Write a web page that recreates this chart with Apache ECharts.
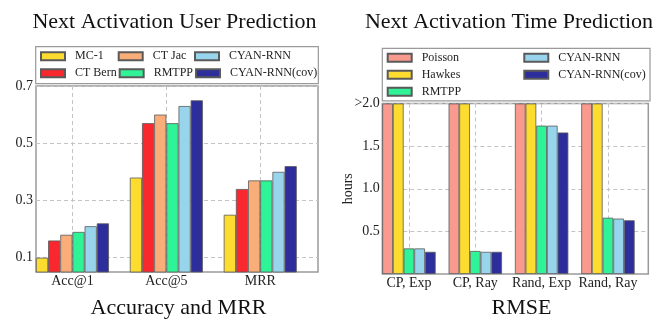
<!DOCTYPE html>
<html>
<head>
<meta charset="utf-8">
<script src="https://cdn.jsdelivr.net/npm/echarts@6/dist/echarts.min.js"></script>
<style>html,body{margin:0;padding:0;background:#fff;}#c{width:669px;height:334px;}</style>
</head>
<body>
<div id="c"></div>
<script>
// ---- data: left chart (Next Activation User Prediction) ----
const userCategories = ['Acc@1', 'Acc@5', 'MRR'];
const mc1        = [0.10, 0.38, 0.25];
const ctBern     = [0.16, 0.57, 0.34];
const ctJac      = [0.18, 0.60, 0.37];
const rmtppUser  = [0.19, 0.57, 0.37];
const cyanUser   = [0.21, 0.63, 0.40];
const cyanCovUser= [0.22, 0.65, 0.42];
const userTicks  = [0.1, 0.3, 0.5, 0.7];

// ---- data: right chart (Next Activation Time Prediction, RMSE hours; Poisson/Hawkes capped at 2.0) ----
const timeCategories = ['CP, Exp', 'CP, Ray', 'Rand, Exp', 'Rand, Ray'];
const poisson    = [2.0, 2.0, 2.0, 2.0];
const hawkes     = [2.0, 2.0, 2.0, 2.0];
const rmtppTime  = [0.30, 0.27, 1.74, 0.66];
const cyanTime   = [0.30, 0.26, 1.74, 0.65];
const cyanCovTime= [0.26, 0.26, 1.66, 0.63];
const timeTicks  = [0.5, 1.0, 1.5, 2.0];

// ---- styles ----
const FONT = 'Liberation Serif';
const colors = {
  'MC-1': '#FCDC2E', 'CT Bern': '#F8282E', 'CT Jac': '#F9AE7A', 'RMTPP': '#30F296',
  'CYAN-RNN': '#98D4EC', 'CYAN-RNN(cov)': '#2D2E9C', 'Poisson': '#F99A8E', 'Hawkes': '#FCDC2E'
};
const frameColor = '#9a9a9a';
const gridLine = { show: true, lineStyle: { color: '#c4c4c4', type: [4, 3], width: 1 } };

function bar(name, data, xi, yi, w) {
  return {
    type: 'bar', name: name, data: data, xAxisIndex: xi, yAxisIndex: yi,
    barWidth: w, barGap: '0%', clip: true,
    itemStyle: { color: colors[name], borderColor: '#5a5a5a', borderWidth: 0.8 },
    emphasis: { disabled: true }
  };
}
function legItem(name, w) {
  return { name: name, textStyle: { width: w } };
}
const legendText = { fontFamily: FONT, fontSize: 12, color: '#222', lineHeight: 15, padding: [0, 0, 0, 5], overflow: 'none' };

const chart = echarts.init(document.getElementById('c'), null, { renderer: 'canvas' });
chart.setOption({
  animation: false,
  title: [
    { text: 'Next Activation User Prediction', left: 174.5, top: 22, textAlign: 'center', textVerticalAlign: 'middle', padding: 0,
      textStyle: { fontFamily: FONT, fontSize: 22, fontWeight: 'normal', color: '#111' } },
    { text: 'Next Activation Time Prediction', left: 509, top: 22, textAlign: 'center', textVerticalAlign: 'middle', padding: 0,
      textStyle: { fontFamily: FONT, fontSize: 22, fontWeight: 'normal', color: '#111' } },
    { text: 'Accuracy and MRR', left: 178.5, top: 308, textAlign: 'center', textVerticalAlign: 'middle', padding: 0,
      textStyle: { fontFamily: FONT, fontSize: 22, fontWeight: 'normal', color: '#111' } },
    { text: 'RMSE', left: 521.5, top: 308, textAlign: 'center', textVerticalAlign: 'middle', padding: 0,
      textStyle: { fontFamily: FONT, fontSize: 22, fontWeight: 'normal', color: '#111' } }
  ],
  legend: [
    {
      left: 35.7, top: 46.7, width: 280, orient: 'horizontal', itemGap: 2,
      itemWidth: 24, itemHeight: 8, icon: 'rect', selectedMode: false,
      padding: [2, 1, 3, 4.3], borderColor: frameColor, borderWidth: 1.2, borderRadius: 0,
      textStyle: legendText,
      data: [legItem('MC-1', 40.7), legItem('CT Jac', 39.3), legItem('CYAN-RNN', 87),
             legItem('CT Bern', 40.7), legItem('RMTPP', 39.3), legItem('CYAN-RNN(cov)', 87)]
    },
    {
      left: 382.3, top: 48.3, width: 300, orient: 'horizontal', itemGap: 2,
      itemWidth: 24, itemHeight: 8, icon: 'rect', selectedMode: false,
      padding: [2, 4.4, 1.5, 4.4], borderColor: frameColor, borderWidth: 1.2, borderRadius: 0,
      textStyle: legendText,
      data: [legItem('Poisson', 99.6), legItem('CYAN-RNN', 87),
             legItem('Hawkes', 99.6), legItem('CYAN-RNN(cov)', 87),
             legItem('RMTPP', 99.6)]
    }
  ],
  grid: [
    { left: 36, top: 86, width: 282, height: 186, show: true, borderColor: frameColor, borderWidth: 1.5, backgroundColor: 'transparent' },
    { left: 25.5, top: 86, width: 281.7, height: 186 },
    { left: 382.3, top: 103.5, width: 266, height: 170.5, show: true, borderColor: frameColor, borderWidth: 1.5, backgroundColor: 'transparent' },
    { left: 375.8, top: 103.5, width: 265.3, height: 170.5 }
  ],
  xAxis: [
    { gridIndex: 0, type: 'value', min: 0, max: 1, show: false },
    { gridIndex: 1, type: 'category', data: userCategories,
      axisLine: { show: false }, axisTick: { show: false },
      splitLine: Object.assign({ alignWithLabel: true }, gridLine),
      axisLabel: { margin: 2, fontFamily: FONT, fontSize: 14, color: '#222' } },
    { gridIndex: 2, type: 'value', min: 0, max: 1, show: false },
    { gridIndex: 3, type: 'category', data: timeCategories,
      axisLine: { show: false }, axisTick: { show: false },
      splitLine: Object.assign({ alignWithLabel: true }, gridLine),
      axisLabel: { margin: 2, fontFamily: FONT, fontSize: 14, color: '#222', interval: 0 } }
  ],
  yAxis: [
    { gridIndex: 0, type: 'value', min: 0.05, max: 0.7,
      axisLine: { show: false }, axisTick: { show: false, customValues: userTicks },
      splitLine: gridLine,
      axisLabel: { customValues: userTicks, margin: 3, fontFamily: FONT, fontSize: 14, color: '#222',
                   formatter: v => v.toFixed(1) } },
    { gridIndex: 1, type: 'value', min: 0.05, max: 0.7, show: false, splitLine: { show: false } },
    { gridIndex: 2, type: 'value', min: 0, max: 2.0,
      name: 'hours', nameLocation: 'middle', nameGap: 27, nameRotate: 90, nameMoveOverlap: false,
      nameTextStyle: { fontFamily: FONT, fontSize: 14, color: '#222' },
      axisLine: { show: false }, axisTick: { show: false, customValues: timeTicks },
      splitLine: gridLine,
      axisLabel: { customValues: timeTicks, margin: 2.5, fontFamily: FONT, fontSize: 14, color: '#222',
                   formatter: v => (v >= 2 ? '>' : '') + v.toFixed(1) } },
    { gridIndex: 3, type: 'value', min: 0, max: 2.0, show: false, splitLine: { show: false } }
  ],
  series: [
    bar('MC-1', mc1, 1, 1, 12.17),
    bar('CT Bern', ctBern, 1, 1, 12.17),
    bar('CT Jac', ctJac, 1, 1, 12.17),
    bar('RMTPP', rmtppUser, 1, 1, 12.17),
    bar('CYAN-RNN', cyanUser, 1, 1, 12.17),
    bar('CYAN-RNN(cov)', cyanCovUser, 1, 1, 12.17),
    bar('Poisson', poisson, 3, 3, 10.68),
    bar('Hawkes', hawkes, 3, 3, 10.68),
    bar('RMTPP', rmtppTime, 3, 3, 10.68),
    bar('CYAN-RNN', cyanTime, 3, 3, 10.68),
    bar('CYAN-RNN(cov)', cyanCovTime, 3, 3, 10.68)
  ]
});
</script>
</body>
</html>
